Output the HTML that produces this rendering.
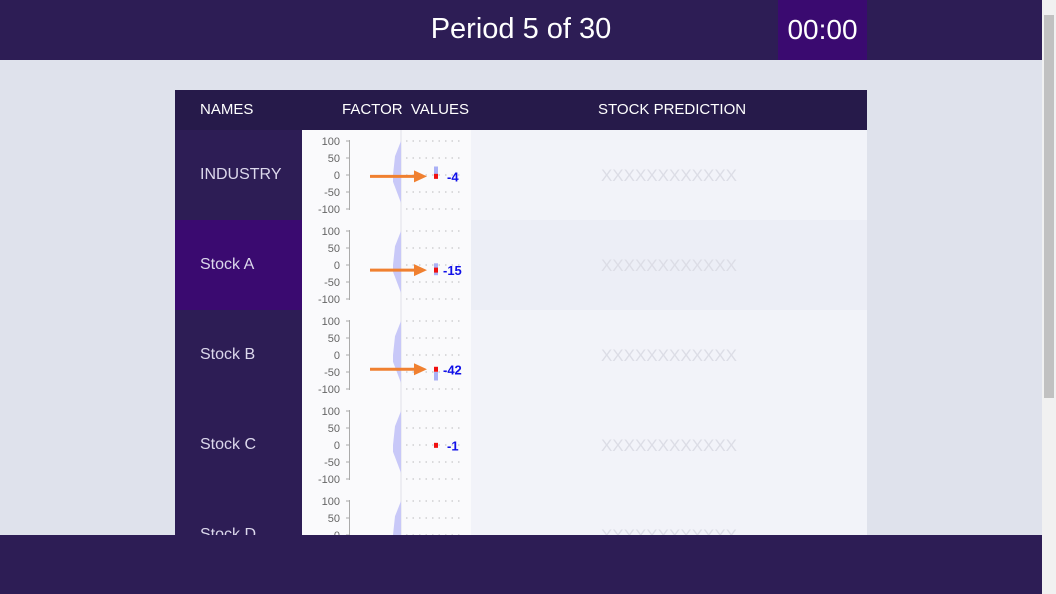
<!DOCTYPE html>
<html><head><meta charset="utf-8"><style>
*{margin:0;padding:0;box-sizing:border-box}
body{width:1056px;height:594px;overflow:hidden;background:#dfe2ec;font-family:"Liberation Sans",sans-serif;position:relative}
#hdr{position:absolute;left:0;top:0;width:1042px;height:60px;background:#2d1d55;color:#fff}
#title{position:absolute;left:0;width:1042px;top:13px;text-align:center;font-size:29px}
#timer{position:absolute;left:778px;top:0;width:89px;height:60px;background:#3a0a70;color:#fff;font-size:28px;text-align:center;line-height:60px}
#tbl{position:absolute;left:175px;top:90px;width:692px;height:445px;overflow:hidden;background:#f2f3f9}
#th{position:absolute;left:0;top:0;width:692px;height:40px;background:#261a4a;color:#fff;font-size:15px}
#th div{position:absolute;top:11px}
.row{position:absolute;left:0;width:692px;height:90px}
.nm{position:absolute;left:0;top:0;width:127px;height:90px;background:#2d1d55;color:#dcd8ec;font-size:16px;padding:36px 0 0 25px}
.ch{position:absolute;left:127px;top:0;width:169px;height:90px;background:#fafafc}
.pred{position:absolute;left:296px;top:0;width:396px;height:90px;text-align:center;padding-top:36px;color:#dcdde6;font-size:17px}
#ftr{position:absolute;left:0;top:535px;width:1042px;height:59px;background:#2d1d55}
#sb{position:absolute;left:1042px;top:0;width:14px;height:594px;background:#f1f1f1}
#thumb{position:absolute;left:2px;top:15px;width:10px;height:383px;background:#c1c1c1}
</style></head><body>
<div id="hdr">
<div id="title">Period 5 of 30</div>
<div id="timer">00:00</div>
</div>
<div id="tbl">
<div id="th">
<div style="left:25px">NAMES</div>
<div style="left:167px">FACTOR&nbsp; VALUES</div>
<div style="left:423px">STOCK PREDICTION</div>
</div>
<div id="rows"></div>
</div>
<div id="ftr"></div>
<div id="sb"><div id="thumb"></div></div>
<script>
const names=["INDUSTRY","Stock A","Stock B","Stock C","Stock D"];
const values=[-4,-15,-42,-1,0];
const bandLow=[-4,-30,-75,-1,0];
const bandHigh=[25,5,-50,-1,0];
const showArrow=[true,true,true,false,false];
const ticks=[100,50,0,-50,-100];
const NS="http://www.w3.org/2000/svg";
const y=v=>45-v*0.34;
const rowsEl=document.getElementById('rows');
names.forEach((n,i)=>{
 const r=document.createElement('div');r.className='row';r.style.top=(40+i*90)+'px';
 
 
 const nm=document.createElement('div');nm.className='nm';nm.textContent=n;
 if(i==1)nm.style.background='#3a0a70';
 
 
 const ch=document.createElement('div');ch.className='ch';
 
 
 const pr=document.createElement('div');pr.className='pred';pr.textContent='XXXXXXXXXXXX';
 if(i==1)pr.style.background='#eceef6';
 
 
 let s='<svg width="169" height="90" xmlns="'+NS+'" style="font-family:Liberation Sans,sans-serif">';
 s+='<line x1="99" y1="0" x2="99" y2="90" stroke="#e0e0e8"/>';
 s+='<line x1="47.5" y1="'+(y(100)-1)+'" x2="47.5" y2="'+(y(-100)+1)+'" stroke="#aaa"/>';
 ticks.forEach(t=>{
  s+='<text x="38" y="'+(y(t)+4)+'" text-anchor="end" font-size="11" fill="#666">'+t+'</text>';
  s+='<line x1="44" x2="47" y1="'+y(t)+'" y2="'+y(t)+'" stroke="#aaa"/>';
  s+='<line x1="104" x2="160" y1="'+y(t)+'" y2="'+y(t)+'" stroke="#bbb" stroke-dasharray="1.5,5"/>';
 });
 s+='<polygon points="99,'+y(100)+' 93,'+y(55)+' 91,'+y(0)+' 91,'+y(-20)+' 99,'+y(-82)+'" fill="#c8c8f8"/>';
 if(i<4){
  const v=values[i];
  if(bandHigh[i]!=bandLow[i]) s+='<rect x="132" y="'+y(bandHigh[i])+'" width="4" height="'+(y(bandLow[i])-y(bandHigh[i]))+'" fill="#aab0f6"/>';
  s+='<rect x="132" y="'+(y(v)-2.5)+'" width="4" height="5" fill="#f01010"/>';
  s+='<text x="'+(v<-9?141:145)+'" y="'+(y(v)+5)+'" font-size="13" font-weight="bold" fill="#1010e8">'+v+'</text>';
  if(showArrow[i]){
   s+='<line x1="68" x2="114" y1="'+y(v)+'" y2="'+y(v)+'" stroke="#f08030" stroke-width="3"/>';
   s+='<polygon points="112,'+(y(v)-6)+' 125,'+y(v)+' 112,'+(y(v)+6)+'" fill="#f08030"/>';
  }
 }
 s+='</svg>';
 ch.innerHTML=s;
 r.appendChild(nm);r.appendChild(ch);r.appendChild(pr);rowsEl.appendChild(r);
});
</script>
</body></html>
